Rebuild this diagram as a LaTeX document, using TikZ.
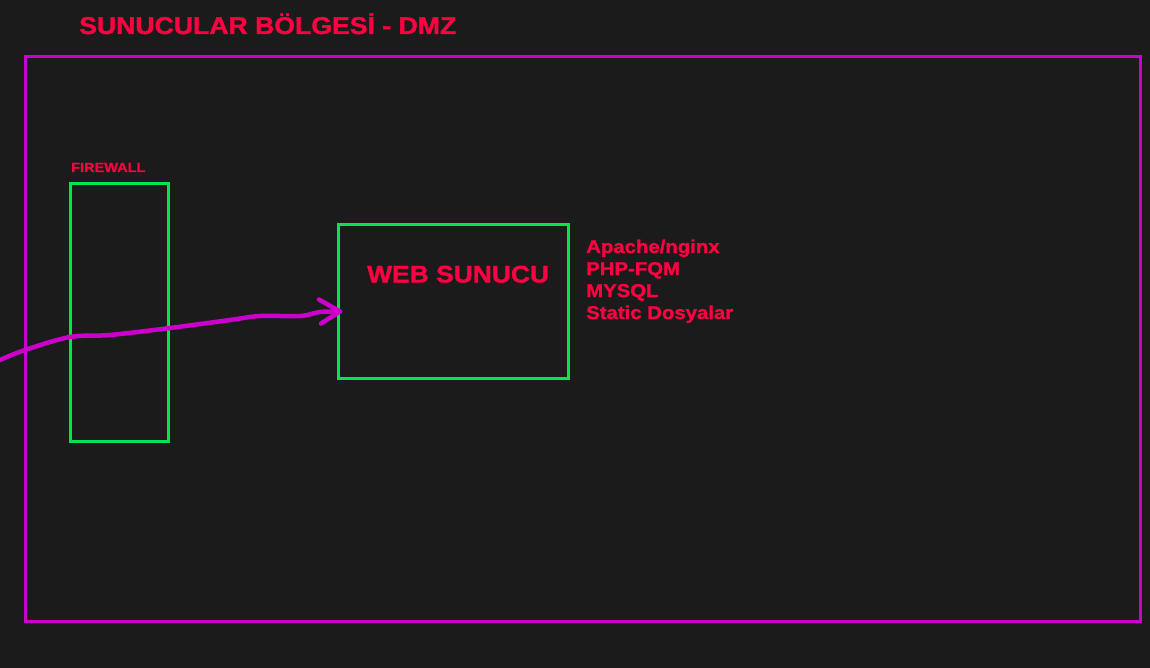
\documentclass[tikz,border=0pt]{standalone}
\usepackage{fontspec}
\usetikzlibrary{calc}
\setmainfont{Liberation Sans}[FakeStretch=1.1,BoldFeatures={FakeBold=1.3}]
\definecolor{bgc}{RGB}{27,27,27}
\definecolor{mag}{RGB}{204,0,204}
\definecolor{grn}{RGB}{0,230,80}
\definecolor{redt}{RGB}{255,0,64}
\begin{document}
\begin{tikzpicture}[x=1pt,y=-1pt,
  zone/.style={draw=mag,line width=3pt,inner sep=0pt,outer sep=0pt},
  greenbox/.style={draw=grn,line width=3pt,inner sep=0pt,outer sep=0pt},
  lbl/.style={text=redt,inner sep=0pt,font=\bfseries},
  arrowline/.style={draw=mag,line width=4.5pt,line cap=round,line join=round}]
\fill[bgc] (0,0) rectangle (1150,668);
\useasboundingbox (0,0) rectangle (1150,668);
% title
\node[lbl,anchor=base west,font=\bfseries\fontsize{24.2}{28}\selectfont] (title) at (79,34) {SUNUCULAR BÖLGESİ - DMZ};
% DMZ zone
\node[zone,minimum width=1115,minimum height=564,anchor=north west] (dmz) at (25,57) {};
% firewall
\node[lbl,anchor=base west,font=\bfseries\fontsize{13.2}{16}\selectfont] (fwlabel) at (71,172) {FIREWALL};
\node[greenbox,minimum width=98,minimum height=257,anchor=north west] (fw) at (70,184) {};
% web server
\node[greenbox,minimum width=230,minimum height=153,anchor=north west] (web) at (338,225) {};
\node[lbl,anchor=base west,font=\bfseries\fontsize{24}{28}\selectfont] (weblabel) at (367,282.5) {WEB SUNUCU};
% stack list
\node[lbl,anchor=base west,font=\bfseries\fontsize{18.5}{22}\selectfont] (s1) at (586,253) {Apache/nginx};
\node[lbl,anchor=base west,font=\bfseries\fontsize{18.5}{22}\selectfont] (s2) at (586,275) {PHP-FQM};
\node[lbl,anchor=base west,font=\bfseries\fontsize{18.5}{22}\selectfont] (s3) at (586,297) {MYSQL};
\node[lbl,anchor=base west,font=\bfseries\fontsize{18.5}{22}\selectfont] (s4) at (586,319) {Static Dosyalar};
% arrow
\coordinate (src) at (0,360);
\coordinate (tip) at ($(web.west)+(2,10)$);
\draw[arrowline] plot[smooth,tension=0.55] coordinates {(src) (25,350) (70,337) (110,335) (170,328) (230,320) (260,316) (300,316) (320,312) (tip)};
\draw[arrowline] ($(tip)+(-21,-12)$) -- (tip) -- ($(tip)+(-19,12)$);
\end{tikzpicture}
\end{document}
